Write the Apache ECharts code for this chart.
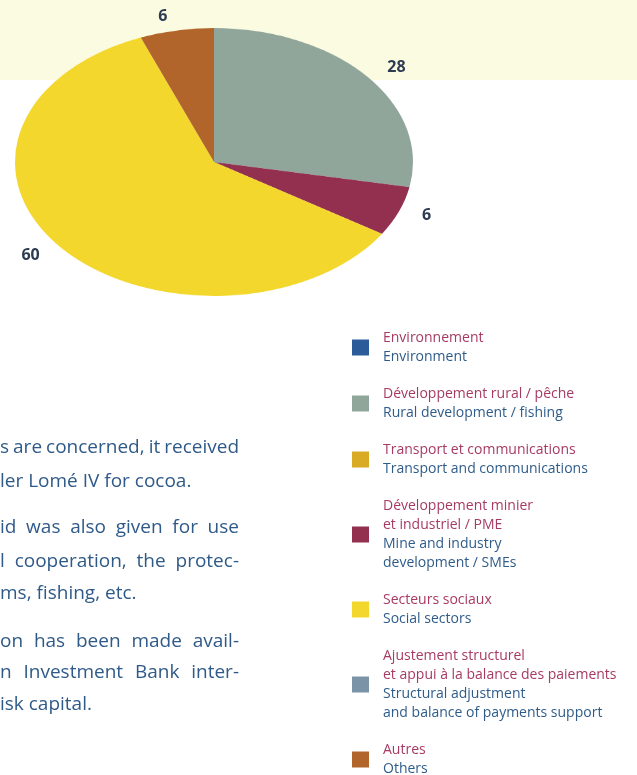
<!DOCTYPE html>
<html>
<head>
<meta charset="utf-8">
<script src="https://cdn.jsdelivr.net/npm/echarts@6/dist/echarts.min.js"></script>
<style>
  html, body { margin: 0; padding: 0; background: #fff; }
  #main { position: absolute; left: 0; top: 0; width: 637px; height: 775px; }
  /* the pie is drawn round and squashed into an ellipse */
  #pie { position: absolute; left: 14px; top: -38.5px; width: 400px; height: 400px;
         transform: scaleY(0.673); transform-origin: 50% 50%; }
</style>
</head>
<body>
<div id="main"></div>
<div id="pie"></div>
<script>
const categories = ['Environment', 'Rural', 'Transport', 'Mine', 'Social', 'Structural', 'Others'];
const labelsFr = [
  'Environnement',
  'Développement rural / pêche',
  'Transport et communications',
  'Développement minier\net industriel / PME',
  'Secteurs sociaux',
  'Ajustement structurel\net appui à la balance des paiements',
  'Autres'
];
const labelsEn = [
  'Environment',
  'Rural development / fishing',
  'Transport and communications',
  'Mine and industry\ndevelopment / SMEs',
  'Social sectors',
  'Structural adjustment\nand balance of payments support',
  'Others'
];
const shares = [0, 28, 0, 6, 60, 0, 6];

const colors = ['#2b5b98', '#91a69b', '#d9ab24', '#93304f', '#f4d72c', '#7b93a6', '#b2652a'];
const FONT = '"Open Sans", "DejaVu Sans", sans-serif';
const SQUASH = 0.673;
const CX = 213.5, CY = 161.5;

// squashed pie, no labels
const pieChart = echarts.init(document.getElementById('pie'));
pieChart.setOption({
  animation: false,
  series: [{
    type: 'pie',
    center: ['50%', '50%'],
    radius: 199,
    startAngle: 90,
    clockwise: true,
    silent: true,
    label: { show: false },
    labelLine: { show: false },
    data: categories.map((c, i) => ({ name: c, value: shares[i], itemStyle: { color: colors[i] } }))
  }]
});

// body text cut by the page edge; [text, y, justified]
const paragraph = [
  ['s are concerned, it received', 448, true],
  ['ler Lomé IV for cocoa.', 482, false],
  ['id was also given for use', 528, true],
  ['l cooperation, the protec-', 562, true],
  ['ms, fishing, etc.', 594, false],
  ['on has been made avail-', 642, true],
  ['n Investment Bank inter-', 673, true],
  ['isk capital.', 705, false]
];
const TEXT_FONT = '19px ' + FONT;
const TEXT_RIGHT = 239;

const measure = document.createElement('canvas').getContext('2d');
measure.font = TEXT_FONT;
function textLine(line) {
  const [txt, y, just] = line;
  const base = { fill: '#2f5a88', font: TEXT_FONT, verticalAlign: 'middle', align: 'left' };
  if (!just) {
    return { type: 'text', silent: true, x: 0, y: y, style: Object.assign({ text: txt }, base) };
  }
  const words = txt.split(' ');
  const widths = words.map(w => measure.measureText(w).width);
  const total = widths.reduce((a, b) => a + b, 0);
  const gap = (TEXT_RIGHT - total) / (words.length - 1);
  let x = 0;
  return {
    type: 'group', silent: true,
    children: words.map((w, i) => {
      const el = { type: 'text', x: x, y: y, style: Object.assign({ text: w }, base) };
      x += widths[i] + gap;
      return el;
    })
  };
}

const mainChart = echarts.init(document.getElementById('main'));
mainChart.setOption({
  animation: false,
  backgroundColor: '#ffffff',
  legend: {
    orient: 'vertical',
    left: 352,
    top: 331,
    height: 520,
    padding: 0,
    itemWidth: 17,
    itemHeight: 16,
    itemGap: 23,
    icon: 'rect',
    selectedMode: false,
    data: categories.map((c, i) => ({ name: c, itemStyle: { color: colors[i], opacity: 1 } })),
    formatter: name => {
      const i = categories.indexOf(name);
      return '{fr|' + labelsFr[i].split('\n').join('}\n{fr|') + '}\n{en|' + labelsEn[i].split('\n').join('}\n{en|') + '}';
    },
    textStyle: {
      padding: [0, 0, 0, 9],
      rich: {
        fr: { color: '#a73a63', fontSize: 14, lineHeight: 19, fontFamily: FONT },
        en: { color: '#2e5c8a', fontSize: 14, lineHeight: 19, fontFamily: FONT }
      }
    }
  },
  graphic: [
    { type: 'rect', z: -10, silent: true, shape: { x: 0, y: 0, width: 637, height: 80 }, style: { fill: '#fbfbe2' } }
  ].concat(paragraph.map(textLine)),
  series: [{
    type: 'pie',
    center: [CX, CY],
    radius: 199,
    startAngle: 90,
    clockwise: true,
    silent: true,
    avoidLabelOverlap: false,
    label: {
      show: true,
      position: 'outside',
      formatter: p => (p.value ? String(p.value) : ''),
      color: '#2d3b52',
      fontSize: 16,
      fontWeight: 'bold',
      fontFamily: FONT
    },
    labelLine: { show: false, length: 20, length2: 0 },
    labelLayout: params => {
      const r = params.labelRect;
      const cy = r.y + r.height / 2;
      return { dy: (CY + (cy - CY) * SQUASH) - cy };
    },
    // invisible copy of the pie that only carries the value labels
    data: categories.map((c, i) => ({ name: c, value: shares[i], itemStyle: { color: 'rgba(0,0,0,0)' } }))
  }]
});
</script>
</body>
</html>
